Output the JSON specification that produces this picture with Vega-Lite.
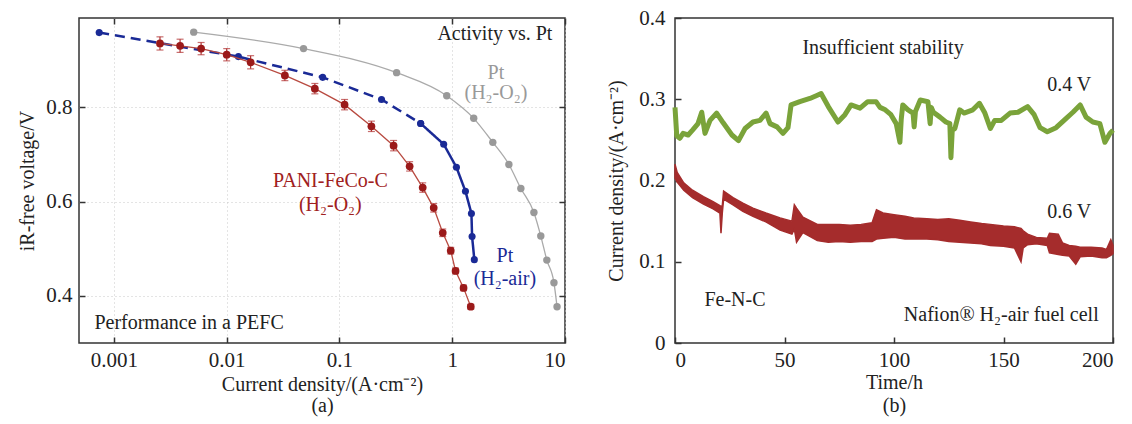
{
  "$schema": "https://vega.github.io/schema/vega-lite/v6.json",
  "background": "white",
  "padding": {"left": 17, "top": 6, "right": 5, "bottom": 5},
  "spacing": 39,
  "config": {
    "font": "Liberation Serif",
    "view": {"stroke": "#333", "strokeWidth": 1.5},
    "axis": {"labelFont": "Liberation Serif", "titleFont": "Liberation Serif", "labelFontSize": 21, "titleFontSize": 20, "titleFontWeight": "normal", "labelColor": "#222", "titleColor": "#222", "domain": false, "tickColor": "#333", "tickWidth": 1.5, "tickSize": -6, "labelPadding": 13, "grid": false},
    "text": {"font": "Liberation Serif", "fontSize": 20}
  },
  "datasets": {
    "grey": [
      {"j": 0.0051, "v": 0.960}, {"j": 0.048, "v": 0.925}, {"j": 0.321, "v": 0.874}, {"j": 0.894, "v": 0.825},
      {"j": 1.55, "v": 0.777}, {"j": 2.29, "v": 0.726}, {"j": 3.18, "v": 0.679}, {"j": 4.06, "v": 0.628},
      {"j": 5.3, "v": 0.577}, {"j": 6.1, "v": 0.527}, {"j": 6.9, "v": 0.476}, {"j": 7.98, "v": 0.428}, {"j": 8.5, "v": 0.377}
    ],
    "blue": [
      {"j": 0.00074, "v": 0.959, "seg": "dash"}, {"j": 0.0127, "v": 0.908, "seg": "dash"}, {"j": 0.071, "v": 0.864, "seg": "dash"},
      {"j": 0.236, "v": 0.817, "seg": "dash"}, {"j": 0.525, "v": 0.766, "seg": "dash"},
      {"j": 0.525, "v": 0.766, "seg": "solid"}, {"j": 0.84, "v": 0.722, "seg": "solid"}, {"j": 1.09, "v": 0.673, "seg": "solid"},
      {"j": 1.31, "v": 0.622, "seg": "solid"}, {"j": 1.48, "v": 0.575, "seg": "solid"}, {"j": 1.5, "v": 0.526, "seg": "solid"},
      {"j": 1.57, "v": 0.477, "seg": "solid"}
    ],
    "red": [
      {"j": 0.00256, "v": 0.936, "lo": 0.922, "hi": 0.950}, {"j": 0.00386, "v": 0.931, "lo": 0.917, "hi": 0.945},
      {"j": 0.00593, "v": 0.925, "lo": 0.912, "hi": 0.938}, {"j": 0.0100, "v": 0.912, "lo": 0.899, "hi": 0.925},
      {"j": 0.0163, "v": 0.896, "lo": 0.882, "hi": 0.910}, {"j": 0.0328, "v": 0.868, "lo": 0.857, "hi": 0.879},
      {"j": 0.0605, "v": 0.840, "lo": 0.829, "hi": 0.851}, {"j": 0.111, "v": 0.806, "lo": 0.795, "hi": 0.817},
      {"j": 0.192, "v": 0.760, "lo": 0.749, "hi": 0.771}, {"j": 0.302, "v": 0.719, "lo": 0.708, "hi": 0.730},
      {"j": 0.419, "v": 0.675, "lo": 0.665, "hi": 0.685}, {"j": 0.547, "v": 0.630, "lo": 0.620, "hi": 0.640},
      {"j": 0.685, "v": 0.587, "lo": 0.578, "hi": 0.596}, {"j": 0.824, "v": 0.534, "lo": 0.526, "hi": 0.542},
      {"j": 0.97, "v": 0.496, "lo": 0.489, "hi": 0.503}, {"j": 1.07, "v": 0.453, "lo": 0.447, "hi": 0.459},
      {"j": 1.26, "v": 0.417, "lo": 0.411, "hi": 0.423}, {"j": 1.46, "v": 0.377, "lo": 0.372, "hi": 0.382}
    ],
    "annA": [
      {"j": 2.39, "v": 0.957, "txt": "Activity vs. Pt", "s": "k"},
      {"j": 2.44, "v": 0.874, "txt": "Pt", "s": "g"},
      {"j": 2.44, "v": 0.830, "txt": "(H₂-O₂)", "s": "g"},
      {"j": 0.083, "v": 0.645, "txt": "PANI-FeCo-C", "s": "r"},
      {"j": 0.083, "v": 0.592, "txt": "(H₂-O₂)", "s": "r"},
      {"j": 2.93, "v": 0.485, "txt": "Pt", "s": "b"},
      {"j": 2.93, "v": 0.436, "txt": "(H₂-air)", "s": "b"},
      {"j": 0.00464, "v": 0.343, "txt": "Performance in a PEFC", "s": "k"}
    ],
    "green": [
      {"t": 0, "c": 0.290}, {"t": 0.8, "c": 0.255}, {"t": 2.2, "c": 0.252}, {"t": 3.7, "c": 0.258}, {"t": 6, "c": 0.256}, {"t": 8, "c": 0.262}, {"t": 10.5, "c": 0.270},
      {"t": 12.2, "c": 0.284}, {"t": 13.7, "c": 0.258}, {"t": 16, "c": 0.274}, {"t": 19, "c": 0.283}, {"t": 22, "c": 0.271},
      {"t": 26, "c": 0.256}, {"t": 29, "c": 0.249}, {"t": 32, "c": 0.264}, {"t": 35.6, "c": 0.272}, {"t": 38.8, "c": 0.274},
      {"t": 41.6, "c": 0.283}, {"t": 43.4, "c": 0.270}, {"t": 46.6, "c": 0.266}, {"t": 49.3, "c": 0.258}, {"t": 51.6, "c": 0.265},
      {"t": 53, "c": 0.293}, {"t": 57, "c": 0.297}, {"t": 61.6, "c": 0.301}, {"t": 65, "c": 0.305}, {"t": 66.7, "c": 0.307},
      {"t": 70, "c": 0.291}, {"t": 74.4, "c": 0.272}, {"t": 77.6, "c": 0.281}, {"t": 80.4, "c": 0.293}, {"t": 84.5, "c": 0.289},
      {"t": 88, "c": 0.297}, {"t": 91.8, "c": 0.297}, {"t": 93.6, "c": 0.290}, {"t": 96, "c": 0.287}, {"t": 98.6, "c": 0.281},
      {"t": 101, "c": 0.270}, {"t": 102.7, "c": 0.247}, {"t": 103.3, "c": 0.275}, {"t": 104, "c": 0.293}, {"t": 106.4, "c": 0.287},
      {"t": 108.7, "c": 0.283}, {"t": 109.2, "c": 0.266}, {"t": 109.8, "c": 0.285}, {"t": 112, "c": 0.299}, {"t": 115.5, "c": 0.297},
      {"t": 116.5, "c": 0.270}, {"t": 117, "c": 0.290}, {"t": 118, "c": 0.284}, {"t": 121, "c": 0.278}, {"t": 123.7, "c": 0.272},
      {"t": 125.5, "c": 0.270}, {"t": 126, "c": 0.228}, {"t": 126.6, "c": 0.262}, {"t": 127.8, "c": 0.264}, {"t": 130, "c": 0.287},
      {"t": 132, "c": 0.283}, {"t": 136, "c": 0.287}, {"t": 139, "c": 0.295}, {"t": 141.5, "c": 0.283}, {"t": 144, "c": 0.264},
      {"t": 146, "c": 0.274}, {"t": 149, "c": 0.274}, {"t": 153, "c": 0.283}, {"t": 156.6, "c": 0.284}, {"t": 161, "c": 0.291},
      {"t": 164, "c": 0.281}, {"t": 166.7, "c": 0.265}, {"t": 170, "c": 0.260}, {"t": 174, "c": 0.265}, {"t": 178, "c": 0.275},
      {"t": 181.7, "c": 0.284}, {"t": 185, "c": 0.293}, {"t": 187.7, "c": 0.278}, {"t": 190.8, "c": 0.272}, {"t": 194, "c": 0.270},
      {"t": 196.3, "c": 0.247}, {"t": 198.6, "c": 0.258}, {"t": 200, "c": 0.262}
    ],
    "redb": [
      {"t": 0, "lo": 0.203, "hi": 0.220}, {"t": 1, "lo": 0.198, "hi": 0.210}, {"t": 4, "lo": 0.188, "hi": 0.197},
      {"t": 8, "lo": 0.179, "hi": 0.188}, {"t": 13, "lo": 0.171, "hi": 0.180}, {"t": 17.4, "lo": 0.165, "hi": 0.174},
      {"t": 20.5, "lo": 0.160, "hi": 0.169}, {"t": 21, "lo": 0.135, "hi": 0.168}, {"t": 21.6, "lo": 0.160, "hi": 0.169},
      {"t": 22.2, "lo": 0.177, "hi": 0.187}, {"t": 26.5, "lo": 0.170, "hi": 0.179}, {"t": 31, "lo": 0.162, "hi": 0.172},
      {"t": 35.6, "lo": 0.156, "hi": 0.166}, {"t": 41.5, "lo": 0.149, "hi": 0.160}, {"t": 48, "lo": 0.139, "hi": 0.154},
      {"t": 53.4, "lo": 0.134, "hi": 0.150}, {"t": 54.5, "lo": 0.140, "hi": 0.170}, {"t": 55.5, "lo": 0.124, "hi": 0.166},
      {"t": 58.4, "lo": 0.136, "hi": 0.155}, {"t": 65, "lo": 0.126, "hi": 0.146}, {"t": 70, "lo": 0.124, "hi": 0.146},
      {"t": 75, "lo": 0.125, "hi": 0.146}, {"t": 80, "lo": 0.124, "hi": 0.145}, {"t": 85, "lo": 0.125, "hi": 0.146},
      {"t": 90, "lo": 0.125, "hi": 0.148}, {"t": 92, "lo": 0.128, "hi": 0.164}, {"t": 95, "lo": 0.129, "hi": 0.160},
      {"t": 100, "lo": 0.130, "hi": 0.158}, {"t": 105, "lo": 0.128, "hi": 0.156}, {"t": 109, "lo": 0.128, "hi": 0.154},
      {"t": 115, "lo": 0.128, "hi": 0.153}, {"t": 120, "lo": 0.127, "hi": 0.152}, {"t": 125, "lo": 0.125, "hi": 0.153},
      {"t": 130, "lo": 0.124, "hi": 0.151}, {"t": 135, "lo": 0.123, "hi": 0.149}, {"t": 140, "lo": 0.122, "hi": 0.147},
      {"t": 144, "lo": 0.120, "hi": 0.146}, {"t": 150, "lo": 0.119, "hi": 0.144}, {"t": 155, "lo": 0.117, "hi": 0.143},
      {"t": 158, "lo": 0.100, "hi": 0.141}, {"t": 159, "lo": 0.117, "hi": 0.138}, {"t": 161, "lo": 0.121, "hi": 0.134},
      {"t": 165, "lo": 0.122, "hi": 0.130}, {"t": 170, "lo": 0.120, "hi": 0.129}, {"t": 171, "lo": 0.111, "hi": 0.135},
      {"t": 175, "lo": 0.109, "hi": 0.134}, {"t": 177, "lo": 0.108, "hi": 0.123}, {"t": 180, "lo": 0.107, "hi": 0.120},
      {"t": 183, "lo": 0.097, "hi": 0.119}, {"t": 185, "lo": 0.106, "hi": 0.118}, {"t": 190, "lo": 0.107, "hi": 0.118},
      {"t": 195, "lo": 0.105, "hi": 0.117}, {"t": 197, "lo": 0.105, "hi": 0.115}, {"t": 199, "lo": 0.108, "hi": 0.127},
      {"t": 200, "lo": 0.110, "hi": 0.120}
    ],
    "annB": [
      {"t": 95, "c": 0.363, "txt": "Insufficient stability"},
      {"t": 180, "c": 0.3175, "txt": "0.4 V"},
      {"t": 180, "c": 0.161, "txt": "0.6 V"},
      {"t": 27.4, "c": 0.053, "txt": "Fe-N-C"},
      {"t": 149, "c": 0.0345, "txt": "Nafion® H₂-air fuel cell"}
    ]
  },
  "hconcat": [
    {
      "width": 486,
      "height": 325,
      "resolve": {"axis": {"x": "independent", "y": "independent"}},
      "layer": [
        {
          "data": {"name": "grey"},
          "mark": {"type": "line", "color": "#aaaaaa", "strokeWidth": 1.3, "interpolate": "monotone"},
          "encoding": {
            "x": {"field": "j", "type": "quantitative", "scale": {"type": "log", "domain": [0.00049, 10], "nice": false},
              "axis": {"orient": "bottom", "values": [0.001, 0.01, 0.1, 1, 10], "labelExpr": "format(datum.value, '~g')", "grid": true, "gridColor": "#c8c8c8", "gridDash": [1, 3], "gridWidth": 1, "title": ["Current density/(A·cm⁻²)", "(a)"], "titleLineHeight": 21, "titlePadding": 4, "labelPadding": 12}},
            "y": {"field": "v", "type": "quantitative", "scale": {"domain": [0.3, 0.99], "nice": false, "zero": false},
              "axis": {"orient": "left", "values": [0.4, 0.6, 0.8], "format": ".1f", "grid": true, "gridColor": "#c8c8c8", "gridDash": [1, 3], "gridWidth": 1, "title": "iR-free voltage/V", "titlePadding": 8}}
          }
        },
        {
          "data": {"name": "grey"},
          "mark": {"type": "point", "filled": true, "color": "#999999", "size": 55, "opacity": 1},
          "encoding": {
            "x": {"field": "j", "type": "quantitative", "scale": {"type": "log", "domain": [0.00049, 10], "nice": false}, "axis": null},
            "y": {"field": "v", "type": "quantitative", "scale": {"domain": [0.3, 0.99], "nice": false, "zero": false}, "axis": null}
          }
        },
        {
          "data": {"name": "blue"},
          "mark": {"type": "line", "color": "#1a2a96", "strokeWidth": 2.5},
          "encoding": {
            "x": {"field": "j", "type": "quantitative", "scale": {"type": "log", "domain": [0.00049, 10], "nice": false},
              "axis": {"orient": "top", "values": [0.001, 0.01, 0.1, 1, 10], "labels": false, "title": null, "grid": false}},
            "y": {"field": "v", "type": "quantitative", "scale": {"domain": [0.3, 0.99], "nice": false, "zero": false},
              "axis": {"orient": "right", "values": [0.4, 0.6, 0.8], "labels": false, "title": null, "grid": false}},
            "detail": {"field": "seg"},
            "strokeDash": {"field": "seg", "type": "nominal", "scale": {"domain": ["dash", "solid"], "range": [[10, 6], [1, 0]]}, "legend": null}
          }
        },
        {
          "data": {"name": "blue"},
          "mark": {"type": "point", "filled": true, "color": "#1a2a96", "size": 50, "opacity": 1},
          "encoding": {
            "x": {"field": "j", "type": "quantitative", "scale": {"type": "log", "domain": [0.00049, 10], "nice": false}, "axis": null},
            "y": {"field": "v", "type": "quantitative", "scale": {"domain": [0.3, 0.99], "nice": false, "zero": false}, "axis": null}
          }
        },
        {
          "data": {"name": "red"},
          "mark": {"type": "rule", "color": "#b03030", "strokeWidth": 1.2},
          "encoding": {
            "x": {"field": "j", "type": "quantitative", "scale": {"type": "log", "domain": [0.00049, 10], "nice": false}, "axis": null},
            "y": {"field": "lo", "type": "quantitative", "scale": {"domain": [0.3, 0.99], "nice": false, "zero": false}, "axis": null},
            "y2": {"field": "hi"}
          }
        },
        {
          "data": {"name": "red"},
          "mark": {"type": "tick", "orient": "horizontal", "color": "#b03030", "size": 7, "thickness": 1.2},
          "encoding": {
            "x": {"field": "j", "type": "quantitative", "scale": {"type": "log", "domain": [0.00049, 10], "nice": false}, "axis": null},
            "y": {"field": "lo", "type": "quantitative", "scale": {"domain": [0.3, 0.99], "nice": false, "zero": false}, "axis": null}
          }
        },
        {
          "data": {"name": "red"},
          "mark": {"type": "tick", "orient": "horizontal", "color": "#b03030", "size": 7, "thickness": 1.2},
          "encoding": {
            "x": {"field": "j", "type": "quantitative", "scale": {"type": "log", "domain": [0.00049, 10], "nice": false}, "axis": null},
            "y": {"field": "hi", "type": "quantitative", "scale": {"domain": [0.3, 0.99], "nice": false, "zero": false}, "axis": null}
          }
        },
        {
          "data": {"name": "red"},
          "mark": {"type": "line", "color": "#b84a40", "strokeWidth": 1.3},
          "encoding": {
            "x": {"field": "j", "type": "quantitative", "scale": {"type": "log", "domain": [0.00049, 10], "nice": false}, "axis": null},
            "y": {"field": "v", "type": "quantitative", "scale": {"domain": [0.3, 0.99], "nice": false, "zero": false}, "axis": null}
          }
        },
        {
          "data": {"name": "red"},
          "mark": {"type": "point", "filled": true, "color": "#9b1a1a", "size": 60, "opacity": 1},
          "encoding": {
            "x": {"field": "j", "type": "quantitative", "scale": {"type": "log", "domain": [0.00049, 10], "nice": false}, "axis": null},
            "y": {"field": "v", "type": "quantitative", "scale": {"domain": [0.3, 0.99], "nice": false, "zero": false}, "axis": null}
          }
        },
        {
          "data": {"name": "annA"},
          "mark": {"type": "text", "font": "Liberation Serif", "fontSize": 20, "align": "center", "baseline": "middle"},
          "encoding": {
            "x": {"field": "j", "type": "quantitative", "scale": {"type": "log", "domain": [0.00049, 10], "nice": false}, "axis": null},
            "y": {"field": "v", "type": "quantitative", "scale": {"domain": [0.3, 0.99], "nice": false, "zero": false}, "axis": null},
            "text": {"field": "txt"},
            "color": {"field": "s", "type": "nominal", "scale": {"domain": ["k", "g", "r", "b"], "range": ["#222222", "#999999", "#a02020", "#1a2a96"]}, "legend": null}
          }
        }
      ]
    },
    {
      "width": 438,
      "height": 325,
      "layer": [
        {
          "data": {"name": "redb"},
          "mark": {"type": "area", "color": "#a52c2c", "stroke": "#a52c2c", "strokeWidth": 1.5, "opacity": 1},
          "encoding": {
            "x": {"field": "t", "type": "quantitative", "scale": {"domain": [0, 200], "nice": false},
              "axis": {"orient": "bottom", "values": [0, 50, 100, 150, 200], "title": ["Time/h", "(b)"], "titleLineHeight": 23, "titlePadding": 2, "labelPadding": 12}},
            "y": {"field": "lo", "type": "quantitative", "scale": {"domain": [0, 0.4], "nice": false},
              "axis": {"orient": "left", "values": [0, 0.1, 0.2, 0.3, 0.4], "labelExpr": "datum.value === 0 ? '0' : format(datum.value, '.1f')", "title": "Current density/(A·cm⁻²)", "titlePadding": 12, "labelPadding": 16}},
            "y2": {"field": "hi"}
          }
        },
        {
          "data": {"name": "green"},
          "mark": {"type": "line", "color": "#7aa33a", "strokeWidth": 5, "strokeJoin": "round"},
          "encoding": {
            "x": {"field": "t", "type": "quantitative", "scale": {"domain": [0, 200], "nice": false}},
            "y": {"field": "c", "type": "quantitative", "scale": {"domain": [0, 0.4], "nice": false}}
          }
        },
        {
          "data": {"name": "annB"},
          "mark": {"type": "text", "font": "Liberation Serif", "fontSize": 20, "align": "center", "baseline": "middle", "color": "#222222"},
          "encoding": {
            "x": {"field": "t", "type": "quantitative", "scale": {"domain": [0, 200], "nice": false}},
            "y": {"field": "c", "type": "quantitative", "scale": {"domain": [0, 0.4], "nice": false}},
            "text": {"field": "txt"}
          }
        }
      ]
    }
  ]
}
